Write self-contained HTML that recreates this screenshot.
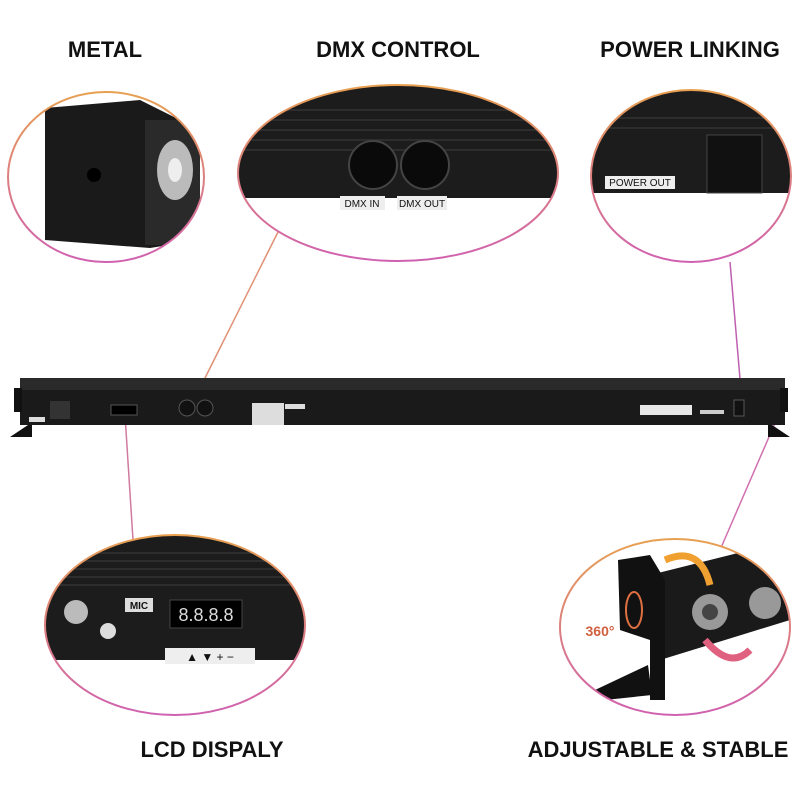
<!DOCTYPE html>
<html><head><meta charset="utf-8"><style>
body{margin:0;background:#fff}
svg{display:block}
text{font-family:"Liberation Sans",sans-serif}
</style></head><body>
<svg width="800" height="800" viewBox="0 0 800 800" xmlns="http://www.w3.org/2000/svg">
<defs>
<linearGradient id="g" x1="0" y1="0" x2="0" y2="1"><stop offset="0" stop-color="#e8a050"/><stop offset="1" stop-color="#d060b0"/></linearGradient>
<clipPath id="c1"><ellipse cx="106" cy="177" rx="98" ry="85"/></clipPath>
<clipPath id="c2"><ellipse cx="398" cy="173" rx="160" ry="88"/></clipPath>
<clipPath id="c3"><ellipse cx="691" cy="176" rx="100" ry="86"/></clipPath>
<clipPath id="c4"><ellipse cx="175" cy="625" rx="130" ry="90"/></clipPath>
<clipPath id="c5"><ellipse cx="675" cy="627" rx="115" ry="88"/></clipPath>
</defs>
<g font-size="22" font-weight="bold" fill="#111" text-anchor="middle">
<text x="105" y="57">METAL</text>
<text x="398" y="57">DMX CONTROL</text>
<text x="690" y="57">POWER LINKING</text>
<text x="212" y="757">LCD DISPALY</text>
<text x="658" y="757">ADJUSTABLE &amp; STABLE</text>
</g>
<g stroke-width="1.5" fill="none">
<line x1="278" y1="232" x2="193" y2="402" stroke="#e09070"/>
<line x1="730" y1="262" x2="742" y2="402" stroke="#c060b0"/>
<line x1="125" y1="415" x2="133" y2="540" stroke="#d07aa0"/>
<line x1="785" y1="400" x2="720" y2="550" stroke="#d070b0"/>
</g>
<path d="M10 437 L28 425 L32 425 L32 437 Z" fill="#111"/>
<path d="M790 437 L772 425 L768 425 L768 437 Z" fill="#111"/>
<rect x="20" y="378" width="765" height="47" fill="#1a1a1a"/>
<rect x="20" y="378" width="765" height="12" fill="#2a2a2a"/>
<rect x="14" y="388" width="8" height="24" fill="#111"/>
<rect x="780" y="388" width="8" height="24" fill="#111"/>
<rect x="50" y="401" width="20" height="18" fill="#333"/>
<rect x="29" y="417" width="16" height="5" fill="#ddd"/>
<rect x="111" y="405" width="26" height="10" fill="#000" stroke="#555"/>
<circle cx="187" cy="408" r="8" fill="#111" stroke="#555"/>
<circle cx="205" cy="408" r="8" fill="#111" stroke="#555"/>
<rect x="252" y="403" width="32" height="22" fill="#ddd"/>
<rect x="285" y="404" width="20" height="5" fill="#ddd"/>
<rect x="640" y="405" width="52" height="10" fill="#e8e8e8"/>
<rect x="700" y="410" width="24" height="4" fill="#ccc"/>
<rect x="734" y="400" width="10" height="16" fill="#111" stroke="#555"/>
<g clip-path="url(#c1)">
<rect x="0" y="90" width="210" height="180" fill="#fff"/>
<path d="M45 108 L140 100 L200 130 L200 240 L150 248 L45 240 Z" fill="#1a1a1a"/>
<rect x="145" y="120" width="55" height="125" fill="#2a2a2a"/>
<ellipse cx="175" cy="170" rx="18" ry="30" fill="#bbb"/>
<ellipse cx="175" cy="170" rx="7" ry="12" fill="#eee"/>
<circle cx="94" cy="175" r="7" fill="#000"/>
</g>
<ellipse cx="106" cy="177" rx="98" ry="85" fill="none" stroke="url(#g)" stroke-width="2"/>
<g clip-path="url(#c2)">
<rect x="230" y="80" width="340" height="190" fill="#fff"/>
<rect x="230" y="80" width="340" height="118" fill="#1c1c1c"/>
<g stroke="#333" stroke-width="1.5"><line x1="230" y1="110" x2="570" y2="110"/><line x1="230" y1="120" x2="570" y2="120"/><line x1="230" y1="130" x2="570" y2="130"/><line x1="230" y1="140" x2="570" y2="140"/><line x1="230" y1="150" x2="570" y2="150"/></g>
<circle cx="373" cy="165" r="24" fill="#0a0a0a" stroke="#444" stroke-width="2"/>
<circle cx="425" cy="165" r="24" fill="#0a0a0a" stroke="#444" stroke-width="2"/>
<rect x="340" y="196" width="45" height="14" fill="#eee"/>
<rect x="397" y="196" width="50" height="14" fill="#eee"/>
<text x="362" y="207" font-size="10" text-anchor="middle" fill="#111">DMX IN</text>
<text x="422" y="207" font-size="10" text-anchor="middle" fill="#111">DMX OUT</text>
</g>
<ellipse cx="398" cy="173" rx="160" ry="88" fill="none" stroke="url(#g)" stroke-width="2"/>
<g clip-path="url(#c3)">
<rect x="585" y="85" width="215" height="185" fill="#fff"/>
<rect x="585" y="85" width="215" height="108" fill="#1c1c1c"/>
<g stroke="#333" stroke-width="1.5"><line x1="585" y1="118" x2="800" y2="118"/><line x1="585" y1="128" x2="800" y2="128"/></g>
<rect x="707" y="135" width="55" height="58" fill="#111" stroke="#444"/>
<rect x="605" y="176" width="70" height="13" fill="#eee"/>
<text x="640" y="186" font-size="10" text-anchor="middle" fill="#111">POWER OUT</text>
</g>
<ellipse cx="691" cy="176" rx="100" ry="86" fill="none" stroke="url(#g)" stroke-width="2"/>
<g clip-path="url(#c4)">
<rect x="40" y="530" width="270" height="190" fill="#fff"/>
<rect x="40" y="530" width="270" height="130" fill="#1c1c1c"/>
<g stroke="#333" stroke-width="1.5"><line x1="40" y1="553" x2="310" y2="553"/><line x1="40" y1="561" x2="310" y2="561"/><line x1="40" y1="569" x2="310" y2="569"/><line x1="40" y1="577" x2="310" y2="577"/><line x1="40" y1="585" x2="310" y2="585"/></g>
<circle cx="76" cy="612" r="12" fill="#bbb"/>
<circle cx="108" cy="631" r="8" fill="#ddd"/>
<rect x="125" y="598" width="28" height="14" fill="#ddd"/>
<text x="139" y="609" font-size="10" font-weight="bold" text-anchor="middle" fill="#111">MIC</text>
<rect x="170" y="600" width="72" height="28" fill="#000" stroke="#444"/>
<text x="206" y="621" font-size="18" text-anchor="middle" fill="#ddd" font-family="Liberation Mono">8.8.8.8</text>
<rect x="165" y="648" width="90" height="16" fill="#eee"/>
<text x="210" y="661" font-size="12" text-anchor="middle" fill="#111">▲ ▼ + −</text>
</g>
<ellipse cx="175" cy="625" rx="130" ry="90" fill="none" stroke="url(#g)" stroke-width="2"/>
<g clip-path="url(#c5)">
<rect x="555" y="535" width="240" height="185" fill="#fff"/>
<path d="M650 575 L790 540 L790 620 L660 660 Z" fill="#1a1a1a"/>
<path d="M618 560 L650 555 L665 580 L665 700 L650 700 L650 640 L620 630 Z" fill="#111"/>
<path d="M595 690 L648 665 L652 695 L605 700 Z" fill="#111"/>
<circle cx="710" cy="612" r="18" fill="#999"/>
<circle cx="765" cy="603" r="16" fill="#999"/>
<circle cx="710" cy="612" r="8" fill="#444"/>
<ellipse cx="634" cy="610" rx="8" ry="18" fill="none" stroke="#e07040" stroke-width="2"/>
<path d="M665 560 Q700 545 710 585" fill="none" stroke="#f0a030" stroke-width="7"/>
<path d="M705 640 Q730 670 750 650" fill="none" stroke="#e06080" stroke-width="7"/>
<text x="600" y="636" font-size="14" font-weight="bold" fill="#d06040" text-anchor="middle">360°</text>
</g>
<ellipse cx="675" cy="627" rx="115" ry="88" fill="none" stroke="url(#g)" stroke-width="2"/>
</svg>
</body></html>
